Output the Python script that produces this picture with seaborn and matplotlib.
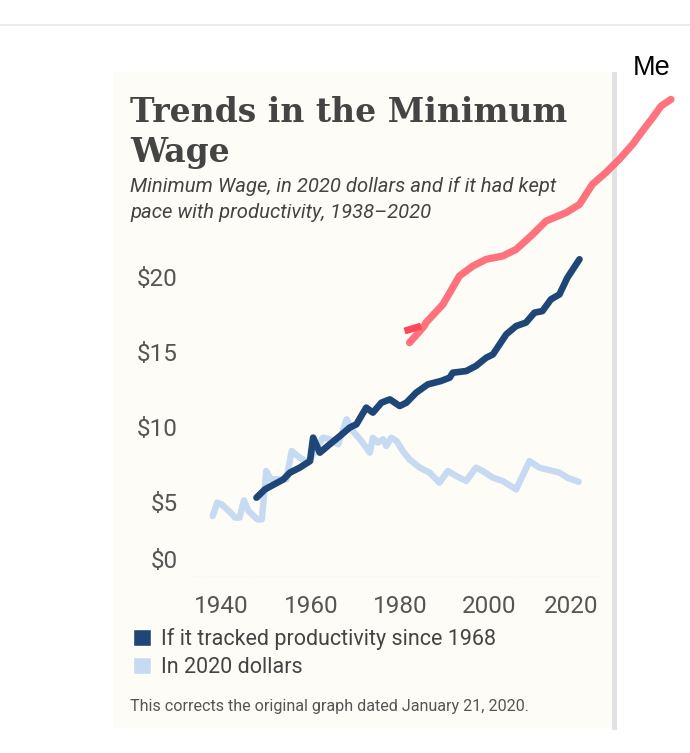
import matplotlib
matplotlib.use("Agg")
import matplotlib.pyplot as plt
import matplotlib.transforms as mtransforms
from matplotlib.patches import Rectangle, Patch
from matplotlib.lines import Line2D
import seaborn as sns
import pandas as pd

# Minimum wage in 2020 dollars
real_years = [1938, 1939, 1940, 1942, 1943, 1944, 1945, 1946, 1948, 1949,
              1950, 1951, 1953, 1954.5, 1955.7, 1957.5, 1959.4, 1962.7, 1964.2, 1966.1,
              1968, 1969.4, 1971.3, 1973.2, 1973.9, 1975, 1976.2, 1976.9, 1978, 1979.2,
              1980.6, 1982.1, 1984.4, 1986.6, 1988.8, 1990.7, 1992.6, 1994.8, 1997, 1998.5,
              2000.8, 2003, 2006, 2009, 2011.2, 2014.2, 2015.7, 2017.5, 2020]
real_wage = [4.07, 4.96, 4.84, 4.29, 3.96, 3.96, 5.11, 4.40, 3.84, 3.84,
             7.07, 6.51, 6.51, 6.51, 8.40, 7.96, 7.62, 9.29, 9.18, 8.84,
             10.51, 9.73, 9.07, 8.29, 9.29, 8.96, 9.18, 8.73, 9.29, 9.07,
             8.40, 7.84, 7.29, 6.96, 6.29, 7.07, 6.73, 6.40, 7.29, 7.07,
             6.62, 6.40, 5.84, 7.73, 7.29, 7.07, 6.96, 6.62, 6.35]

# If it had tracked productivity since 1968
prod_years = [1947.8, 1949.7, 1951.1, 1953.8, 1955.3, 1957.5, 1959.8, 1960.5, 1962, 1964.2,
              1966.5, 1968.7, 1970.2, 1972.4, 1973.9, 1975.8, 1977.7, 1979.9, 1981.4, 1983.6,
              1986.2, 1989.2, 1991.1, 1991.8, 1994.8, 1997, 1999.3, 2000.8, 2003.8, 2006,
              2008.2, 2010.1, 2011.9, 2013.8, 2015.7, 2017.5, 2020.2]
prod_wage = [5.29, 5.84, 6.07, 6.50, 6.96, 7.29, 7.73, 9.29, 8.29, 8.84,
             9.40, 9.96, 10.18, 11.29, 10.96, 11.62, 11.84, 11.40, 11.62, 12.29,
             12.84, 13.07, 13.29, 13.62, 13.73, 14.07, 14.62, 14.84, 16.18, 16.73,
             16.96, 17.62, 17.73, 18.51, 18.84, 19.96, 21.18]

# "Me" hand-drawn line
me_years = [1982.1, 1985.4, 1985.8, 1989.6, 1993.3, 1996.3, 1999.3, 2003, 2006, 2009.7,
            2012.7, 2017.2, 2020.2, 2023.1, 2026.1, 2029.1, 2032.1, 2034.3, 2036.6, 2038.5,
            2040.7]
me_wage = [15.62, 16.73, 16.96, 18.18, 20.07, 20.73, 21.18, 21.40, 21.84, 22.84,
           23.73, 24.29, 24.84, 26.18, 26.96, 27.84, 28.84, 29.73, 30.62, 31.40,
           31.84]
me_tick_years = [1981.0, 1984.7]
me_tick_wage = [16.4, 16.73]

y_ticks = [0, 5, 10, 15, 20]
y_labels = ["$0", "$5", "$10", "$15", "$20"]
x_ticks = [1940, 1960, 1980, 2000, 2020]

DARK = "#1e4677"
LIGHT = "#c6daf1"
RED = "#ff6b78"
CARD = "#fdfcf6"
TXT = "#444444"

sns.set_style("white")
plt.rcParams["font.family"] = ["Roboto", "DejaVu Sans"]

W, H = 690, 753
fig = plt.figure(figsize=(W / 100, H / 100), dpi=100)
fig.patch.set_facecolor("white")

# card and its right border
fig.patches.append(Rectangle((113 / W, 1 - 728 / H), (612 - 113) / W, (728 - 72) / H,
                             transform=fig.transFigure, facecolor=CARD, edgecolor="none", zorder=-3))
fig.patches.append(Rectangle((612 / W, 1 - 730 / H), 5 / W, (730 - 72) / H,
                             transform=fig.transFigure, facecolor="#e2e2e2", edgecolor="none", zorder=-2))
fig.lines.append(Line2D([0, 1], [1 - 25 / H, 1 - 25 / H], transform=fig.transFigure,
                        color="#ececec", lw=1.5, zorder=-2))

ax = fig.add_axes([190 / W, 1 - 577 / H, 410 / W, 345 / H])
ax.patch.set_alpha(0)

real_df = pd.DataFrame({"year": real_years, "wage": real_wage})
prod_df = pd.DataFrame({"year": prod_years, "wage": prod_wage})
me_df = pd.DataFrame({"year": me_years, "wage": me_wage})

sns.lineplot(data=real_df, x="year", y="wage", ax=ax, color=LIGHT, lw=4.6,
             solid_joinstyle="round", solid_capstyle="round", sort=False)
sns.lineplot(data=prod_df, x="year", y="wage", ax=ax, color=DARK, lw=4.8,
             solid_joinstyle="round", solid_capstyle="round", sort=False)
sns.lineplot(data=me_df, x="year", y="wage", ax=ax, color=RED, lw=5.2, alpha=0.95,
             solid_joinstyle="round", solid_capstyle="round", sort=False, clip_on=False, zorder=5)
ax.plot(me_tick_years, me_tick_wage, color="#ff4755", lw=5, clip_on=False, zorder=5,
        solid_capstyle="butt")

ax.set_xlim(1932.9, 2024.8)
ax.set_ylim(0, 23)
ax.axhline(0, color="#dddddd", lw=1, ls=":")
for s in ax.spines.values():
    s.set_visible(False)
ax.set_xlabel("")
ax.set_ylabel("")
ax.set_yticks(y_ticks)
ax.set_yticklabels(y_labels)
ax.set_xticks(x_ticks)
ax.tick_params(axis="both", length=0, labelsize=17.5, labelcolor="#555555")
ax.tick_params(axis="y", pad=9)
ax.tick_params(axis="x", pad=13)

# nudge the $0 label up and the 2020 label left, as in the original
lab0 = ax.get_yticklabels()[0]
lab0.set_transform(lab0.get_transform() + mtransforms.ScaledTranslation(0, 0.18, fig.dpi_scale_trans))
lab20 = ax.get_xticklabels()[-1]
lab20.set_transform(lab20.get_transform() + mtransforms.ScaledTranslation(-0.07, 0, fig.dpi_scale_trans))

# titles
fig.text(130 / W, 1 - 122 / H, "Trends in the Minimum", family="DejaVu Serif", weight="bold",
         fontsize=23.8, color=TXT, va="baseline")
fig.text(130 / W, 1 - 162 / H, "Wage", family="DejaVu Serif", weight="bold",
         fontsize=23.8, color=TXT, va="baseline")
fig.text(130 / W, 1 - 186 / H, "Minimum Wage, in 2020 dollars and if it had kept",
         style="italic", fontsize=14.6, color=TXT, va="center")
fig.text(130 / W, 1 - 212 / H, "pace with productivity, 1938\u20132020",
         style="italic", fontsize=14.6, color=TXT, va="center")

handles = [Patch(facecolor=DARK, label="If it tracked productivity since 1968"),
           Patch(facecolor=LIGHT, label="In 2020 dollars")]
fig.legend(handles=handles, loc="upper left", bbox_to_anchor=(133 / W, 1 - 628 / H),
           frameon=False, fontsize=15.5, labelcolor="#444444", handlelength=0.85, handleheight=0.85,
           handletextpad=0.45, labelspacing=0.33, borderaxespad=0, borderpad=0)

fig.text(130 / W, 1 - 707 / H, "This corrects the original graph dated January 21, 2020.",
         fontsize=11.6, color="#555555", va="center")

fig.text(652 / W, 1 - 68 / H, "Me", family="Liberation Sans", fontsize=19.5, color="black",
         ha="center", va="center")

fig.savefig("out.png", dpi=100)
